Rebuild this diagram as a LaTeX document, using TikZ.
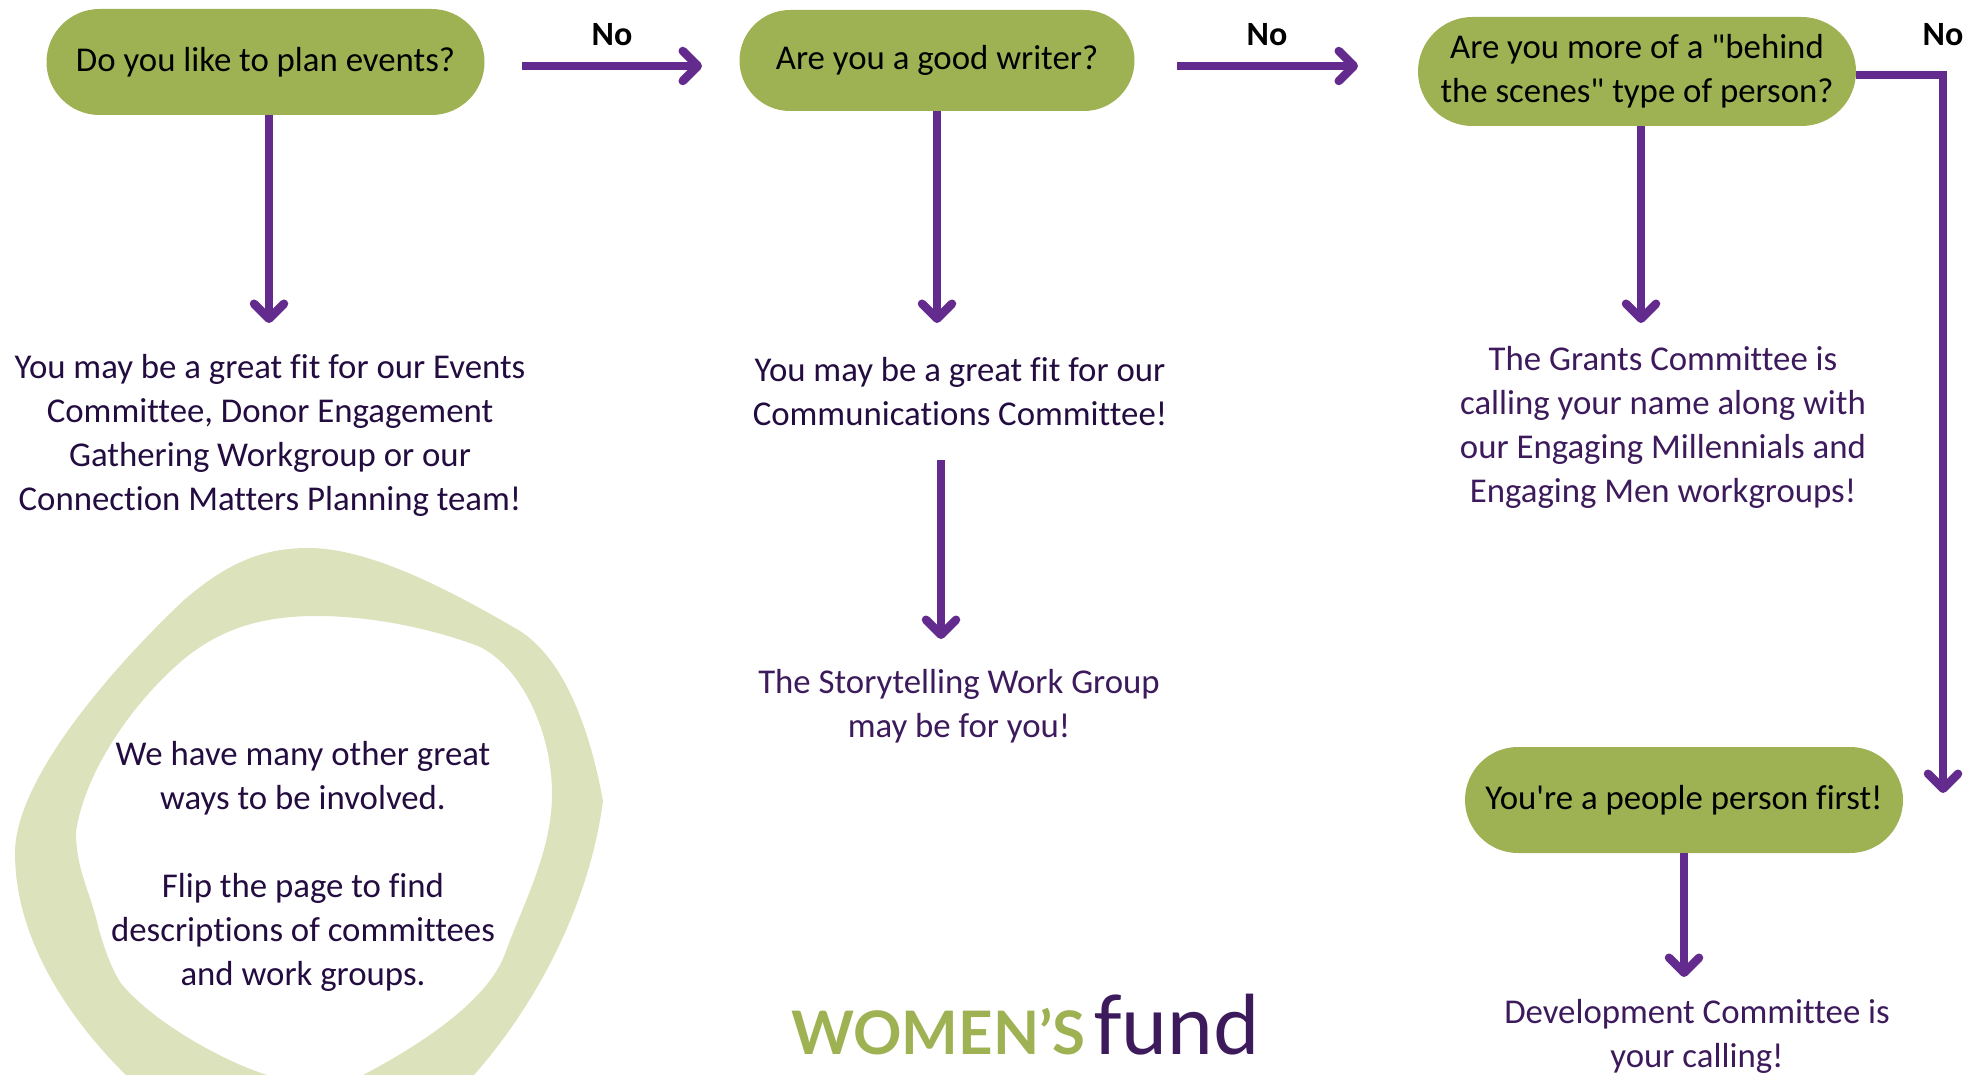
\documentclass[tikz,border=0pt]{standalone}
\usepackage{fontspec}
\newfontfamily\bodyfont[Ligatures=CommonOff]{Carlito}
\newfontfamily\logofont{Lato}
\usetikzlibrary{arrows.meta,shapes.misc}
\definecolor{pillgreen}{HTML}{9EB254}
\definecolor{blobgreen}{HTML}{DCE3BC}
\definecolor{arrowpurple}{HTML}{642B8F}
\definecolor{inkdark}{HTML}{230C3F}
\definecolor{inkpurple}{HTML}{3C1A5B}
\tikzset{
  x=1pt,y=-1pt,
  pill/.style={rounded rectangle,fill=pillgreen,text=black,inner sep=0pt,align=center,font=\bodyfont\fontsize{34.8}{44}\selectfont},
  body/.style={inner sep=0pt,align=center,text=inkdark,font=\bodyfont\fontsize{34.8}{44}\selectfont},
  bodyb/.style={body,text=inkpurple},
  nolabel/.style={inner sep=0pt,text=black,font=\bodyfont\fontsize{34}{40}\selectfont\bfseries},
  flow/.style={draw=arrowpurple,line width=8.5pt,-{Straight Barb[round,length=15pt,width=30pt,line width=8.5pt]},shorten >=1pt},
}
\begin{document}
\begin{tikzpicture}
\useasboundingbox (0,0) rectangle (1982,1075);
\clip (0,0) rectangle (1982,1075);
\fill[blobgreen,even odd rule]
  (308,548) .. controls (370,548) and (450,590) .. (520,631)
  .. controls (565,660) and (590,730) .. (603,801)
  .. controls (590,900) and (540,1000) .. (474,1075)
  .. controls (430,1135) and (170,1135) .. (126,1075)
  .. controls (70,1020) and (15,940) .. (15,853)
  .. controls (15,780) and (110,670) .. (184,600)
  .. controls (225,565) and (260,548) .. (308,548) -- cycle
  (317,616) .. controls (370,616) and (430,628) .. (478,646)
  .. controls (520,665) and (552,730) .. (552,794)
  .. controls (552,850) and (525,900) .. (506,951)
  .. controls (490,1000) and (420,1045) .. (363,1075)
  .. controls (340,1090) and (290,1090) .. (267,1075)
  .. controls (220,1060) and (150,1020) .. (120,982)
  .. controls (110,965) and (105,950) .. (99,930)
  .. controls (90,890) and (76,870) .. (76,832)
  .. controls (85,770) and (135,700) .. (184,659)
  .. controls (225,625) and (270,616) .. (317,616) -- cycle;

\node[pill,minimum width=438pt,minimum height=106pt] (p1) at (265.5,62) {Do you like to plan events?};
\node[pill,minimum width=395pt,minimum height=101pt] (p2) at (937,60.5) {\raisebox{-2pt}{Are you a good writer?}};
\node[pill,minimum width=438pt,minimum height=109pt] (p3) at (1637,71.5) {\raisebox{-1pt}{\begin{tabular}{@{}c@{}}Are you more of a "behind\\the scenes" type of person?\end{tabular}}};
\node[pill,minimum width=438pt,minimum height=106pt] (p4) at (1684,800) {You're a people person first!};

\node[body] (t1) at (270,435) {You may be a great fit for our Events\\Committee, Donor Engagement\\Gathering Workgroup or our\\Connection Matters Planning team!};
\node[body] (t2) at (960,392) {You may be a great fit for our\\Communications Committee!};
\node[bodyb] (t3) at (959,706) {The Storytelling Work Group\\may be for you!};
\node[bodyb] (t4) at (1663,427) {The Grants Committee is\\calling your name along with\\our Engaging Millennials and\\Engaging Men workgroups!};
\node[bodyb] (t5) at (1697,1036) {Development Committee is\\your calling!};
\node[body] (t6) at (303,866) {We have many other great\\ways to be involved.\\[44pt]Flip the page to find\\descriptions of committees\\and work groups.};

\node[nolabel] (n1) at (612,35) {No};
\node[nolabel] (n2) at (1267,35) {No};
\node[nolabel] (n3) at (1943,35) {No};

\coordinate (a1) at (522,66);  \coordinate (b1) at (703,66);
\coordinate (a2) at (1177,66); \coordinate (b2) at (1359,66);
\coordinate (c1) at (269,324); \coordinate (c2) at (937,324);
\coordinate (c3) at (1641,324);\coordinate (c4) at (1684,978);
\coordinate (d3a) at (941,460);\coordinate (d3b) at (941,640);
\coordinate (e3) at (1943,794);

\draw[flow] (a1) -- (b1);
\draw[flow] (a2) -- (b2);
\draw[flow] (p1.south -| c1) -- (c1);
\draw[flow] (p2.south -| c2) -- (c2);
\draw[flow] (p3.south -| c3) -- (c3);
\draw[flow] (p4.south -| c4) -- (c4);
\draw[flow] (d3a) -- (d3b);
\draw[flow] (p3.east |- 0,75) -- (1943,75) -- (e3);

\node[inner sep=0pt,anchor=base west,text=pillgreen,font=\logofont\fontsize{60}{60}\selectfont\bfseries] (l1) at (791,1054) {WOMEN’S};
\node[inner sep=0pt,anchor=base west,text=inkpurple,font=\logofont\fontsize{82}{82}\selectfont] (l2) at (1093,1054) {fund};
\end{tikzpicture}
\end{document}
